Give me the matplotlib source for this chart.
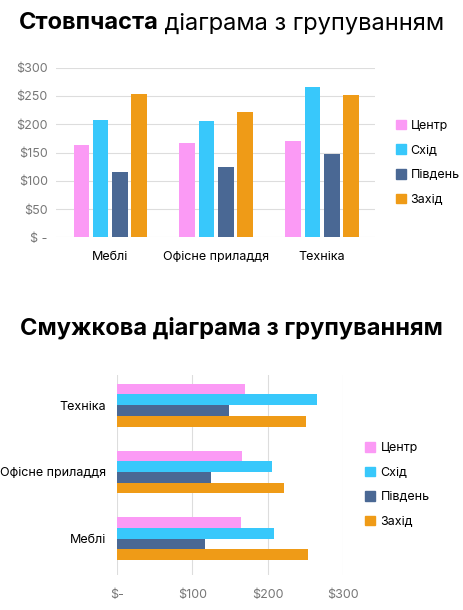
import matplotlib
matplotlib.use("Agg")
import matplotlib.pyplot as plt
import numpy as np
from matplotlib.patches import Patch

plt.rcParams['font.family'] = ['Inter', 'DejaVu Sans']

categories = ['Меблі', 'Офісне приладдя', 'Техніка']
regions = ['Центр', 'Схід', 'Південь', 'Захід']
values = {
    'Центр': [164, 166, 170],
    'Схід': [208, 205, 265],
    'Південь': [116, 125, 148],
    'Захід': [253, 221, 251],
}
colors = ['#fb9af5', '#38c8fb', '#4a6894', '#ef9b17']
ticks = [0, 50, 100, 150, 200, 250, 300]
tick_labels = ['$ -', '$50', '$100', '$150', '$200', '$250', '$300']

fig = plt.figure(figsize=(4.63, 6.10), dpi=100)

# заголовок верхньої діаграми: жирна частина + звичайна
t1 = fig.text(0.5, 0.962, 'Стовпчаста', fontsize=17, fontweight='bold', ha='left', va='center')
t2 = fig.text(0.5, 0.962, ' діаграма з групуванням', fontsize=17, ha='left', va='center')
fig.canvas.draw()
r = fig.canvas.get_renderer()
w1 = t1.get_window_extent(r).width / fig.bbox.width
w2 = t2.get_window_extent(r).width / fig.bbox.width
x0 = 0.5 - (w1 + w2) / 2
t1.set_x(x0)
t2.set_x(x0 + w1)

# верхня: стовпчики
ax = fig.add_axes([0.121, 0.611, 0.689, 0.278])
x = np.arange(len(categories))
step = 0.18
for i, (reg, c) in enumerate(zip(regions, colors)):
    ax.bar(x + (i - 1.5) * step, values[reg], width=0.15, color=c, zorder=3)
ax.set_ylim(0, 300)
ax.set_xlim(-0.51, 2.5)
ax.set_yticks(ticks)
ax.set_yticklabels(tick_labels, color='#777777', fontsize=9)
ax.set_xticks(x)
ax.set_xticklabels(categories, fontsize=9)
ax.grid(axis='y', color='#dddddd', lw=0.8, zorder=0)
for s in ax.spines.values():
    s.set_visible(False)
ax.tick_params(length=0, pad=6)
ax.tick_params(axis='x', pad=10)
handles = [Patch(color=c, label=reg) for reg, c in zip(regions, colors)]
fig.legend(handles=handles, loc='center left', bbox_to_anchor=(0.83, 0.733),
           frameon=False, fontsize=9, handlelength=0.8, handleheight=0.8,
           handletextpad=0.4, labelspacing=1.0)

# нижня: горизонтальні смуги
fig.text(0.5, 0.462, 'Смужкова діаграма з групуванням', fontsize=17,
         fontweight='bold', ha='center', va='center')
ax2 = fig.add_axes([0.253, 0.057, 0.488, 0.328])
y = np.arange(len(categories))
hstep = 0.16
for i, (reg, c) in enumerate(zip(regions, colors)):
    ax2.barh(y + (1.5 - i) * hstep, values[reg], height=hstep, color=c, zorder=3)
ax2.set_xlim(0, 300)
ax2.set_ylim(-0.55, 2.45)
ax2.set_xticks([0, 100, 200, 300])
ax2.set_xticklabels(['$-', '$100', '$200', '$300'], color='#777777', fontsize=9)
ax2.set_yticks(y)
ax2.set_yticklabels(categories, fontsize=9)
ax2.grid(axis='x', color='#dddddd', lw=0.8, zorder=0)
for s in ax2.spines.values():
    s.set_visible(False)
ax2.tick_params(length=0, pad=10)
ax2.tick_params(axis='y', pad=8)
fig.legend(handles=handles, loc='center left', bbox_to_anchor=(0.765, 0.205),
           frameon=False, fontsize=9, handlelength=0.8, handleheight=0.8,
           handletextpad=0.4, labelspacing=1.0)

fig.savefig('out.png', dpi=100)
